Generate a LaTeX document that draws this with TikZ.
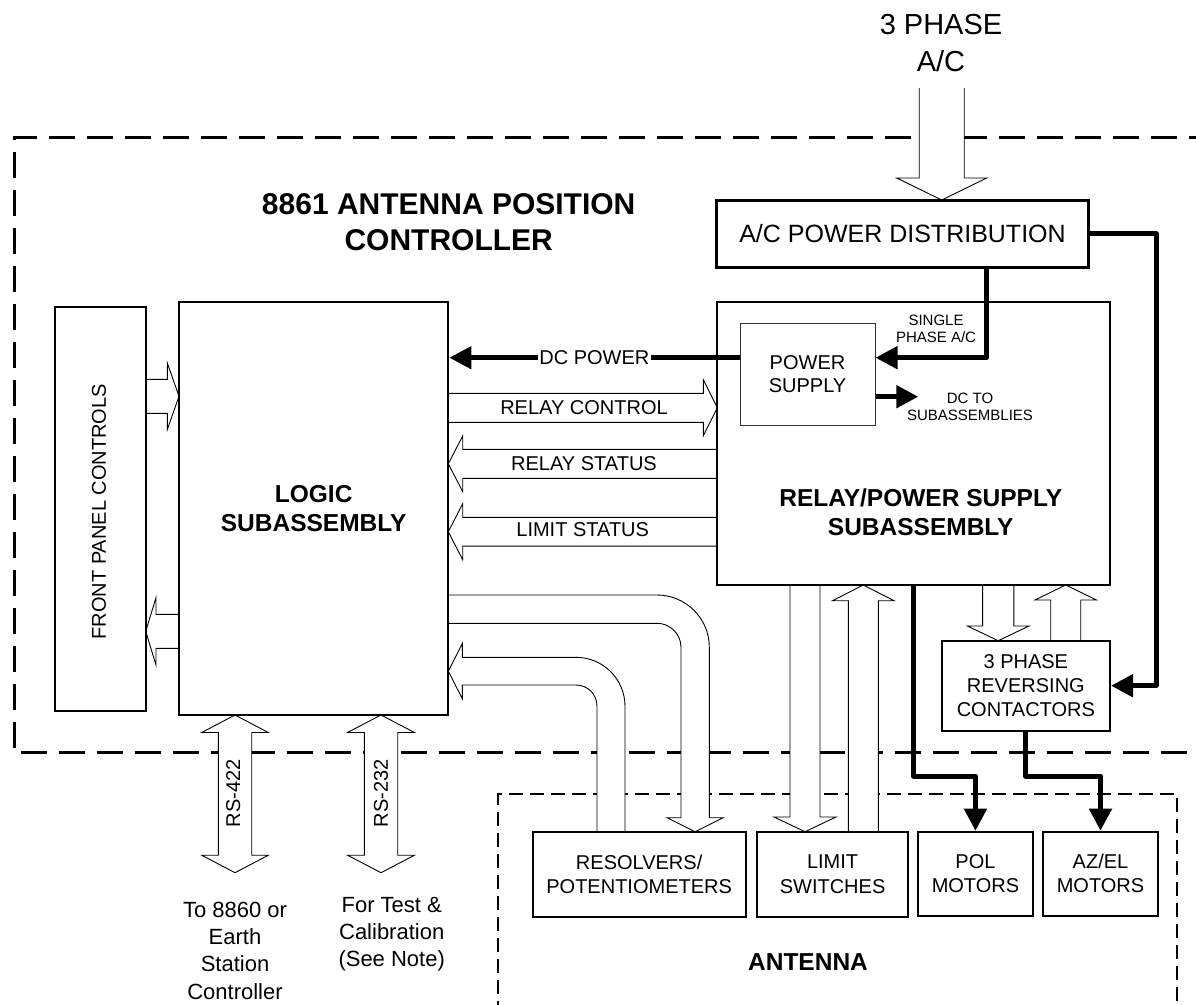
\documentclass[tikz,border=0pt]{standalone}
\usepackage{fontspec}
\setmainfont{Liberation Sans}
\usetikzlibrary{arrows.meta}

% horizontal block arrow: tail x, tip x, y, shaft half, head half, head length
\newcommand{\HArrow}[6]{%
  \pgfmathsetmacro{\myhb}{#2-sign(#2-#1)*#6}%
  \filldraw[barrow] (#1,#3-#4) -- (\myhb,#3-#4) -- (\myhb,#3-#5) -- (#2,#3) -- (\myhb,#3+#5) -- (\myhb,#3+#4) -- (#1,#3+#4);
}
% vertical block arrow: tail y, tip y, x, shaft half, head half, head length
\newcommand{\VArrow}[6]{%
  \pgfmathsetmacro{\myhb}{#2-sign(#2-#1)*#6}%
  \filldraw[barrow] (#3-#4,#1) -- (#3-#4,\myhb) -- (#3-#5,\myhb) -- (#3,#2) -- (#3+#5,\myhb) -- (#3+#4,\myhb) -- (#3+#4,#1);
}
% double headed vertical block arrow: top tip y, bottom tip y, x, shaft half, head half, head length
\newcommand{\DVArrow}[6]{%
  \filldraw[barrow] (#3,#1) -- (#3+#5,#1+#6) -- (#3+#4,#1+#6) -- (#3+#4,#2-#6) -- (#3+#5,#2-#6) -- (#3,#2) -- (#3-#5,#2-#6) -- (#3-#4,#2-#6) -- (#3-#4,#1+#6) -- (#3-#5,#1+#6) -- cycle;
}

\begin{document}
\begin{tikzpicture}[x=1pt,y=-1pt,
  box/.style={draw, fill=white, line width=2pt, inner sep=0pt, align=center},
  barrow/.style={draw=black, fill=white, line width=0.9pt, line join=miter},
  power/.style={line width=5pt, line join=round, -{Triangle[length=22pt,width=22pt]}},
  lbl/.style={inner sep=0pt, align=center},
  f15/.style={font=\fontsize{15}{17.6}\selectfont},
  f20/.style={font=\fontsize{20}{24.2}\selectfont},
  f22/.style={font=\fontsize{22}{27.3}\selectfont},
  fb/.style={font=\fontsize{24.5}{29}\selectfont\bfseries},
]
\useasboundingbox (0,0) rectangle (1196,1004);

% dashed enclosures
\draw[line width=3pt, dash pattern=on 26pt off 12pt] (1215,137) -- (14,137) -- (14,752.7) -- (1215,752.7);
\draw[line width=1.8pt, dash pattern=on 14pt off 7pt] (498.3,1015) -- (498.3,794.3) -- (1177.3,794.3) -- (1177.3,1015);

% block arrows
\VArrow{88}{200}{941.7}{22.5}{45}{22}
\HArrow{145.7}{179}{396.3}{17}{33.3}{11.7}
\HArrow{179}{145.7}{631.3}{17}{33.7}{10.3}
\HArrow{448.3}{717.3}{407.8}{14.5}{28}{14}
\HArrow{717.3}{448.3}{463.8}{14.5}{27.8}{14.4}
\HArrow{717.3}{448.3}{531.7}{14.4}{28}{14.4}
\DVArrow{715}{872.7}{235}{16.7}{33.3}{17.5}
\DVArrow{715}{872.7}{381}{16.7}{33.5}{17.5}
\VArrow{585}{831.7}{805}{15}{31}{14.7}
\VArrow{831.7}{585}{863.3}{15}{30.8}{15.7}
\VArrow{585}{640.7}{998.2}{15.6}{30.8}{14.7}
\VArrow{640.7}{585}{1065.7}{15}{30.8}{15}
% curved block arrows
\filldraw[barrow] (448.3,595) -- (657,595) .. controls (685.9,595) and (709.3,618.4) .. (709.3,647.3)
  -- (709.3,817.7) -- (723.2,817.7) -- (695.15,831.7) -- (667.1,817.7) -- (681,817.7) -- (681,647.3)
  .. controls (681,634.05) and (670.25,623.3) .. (657,623.3) -- (448.3,623.3);
\filldraw[barrow] (625,831.7) -- (625,706.3) .. controls (625,679.2) and (603.1,657.3) .. (576,657.3)
  -- (462.3,657.3) -- (462.3,643.6) -- (448.3,671.15) -- (462.3,698.7) -- (462.3,685) -- (576,685)
  .. controls (587.6,685) and (597,694.4) .. (597,706) -- (597,831.7);

% boxes
\node[box, line width=3pt, minimum width=371.6pt, minimum height=67.7pt, font=\fontsize{25}{30}\selectfont] (acdist) at (902.5,233.85) {A/C POWER DISTRIBUTION};
\node[box, line width=1.8pt, minimum width=392.7pt, minimum height=283.3pt] (relay) at (913.65,443.35) {};
\node[box, line width=1pt, draw=black!80, minimum width=135pt, minimum height=101.7pt, font=\fontsize{20}{22.4}\selectfont] (psupply) at (807.5,374.15) {POWER\\SUPPLY};
\node[box, minimum width=269.3pt, minimum height=413.3pt, fb] (logic) at (313.65,508.35) {LOGIC\\SUBASSEMBLY};
\node[box, line width=1.8pt, minimum width=90.7pt, minimum height=404pt] (front) at (100.35,508.7) {};
\node[box, minimum width=168.3pt, minimum height=90pt, f20] (contactors) at (1025.85,685.7) {3 PHASE\\REVERSING\\CONTACTORS};
\node[box, minimum width=213.3pt, minimum height=85pt, f20] (resolvers) at (639.15,874.2) {RESOLVERS/\\POTENTIOMETERS};
\node[box, minimum width=150.7pt, minimum height=85pt, f20] (limitsw) at (832.55,874.2) {LIMIT\\SWITCHES};
\node[box, minimum width=114.1pt, minimum height=84pt, f20] (pol) at (975.45,873.7) {POL\\MOTORS};
\node[box, minimum width=115pt, minimum height=84pt, f20] (azel) at (1100.5,873.7) {AZ/EL\\MOTORS};

% power connectors
\coordinate (dcend) at (918.3,396.7);
\draw[power] ([xshift=84.2pt]acdist.south) |- (psupply.east |- 0,357.7);
\draw[power] (acdist.east) -| ([xshift=45pt]contactors.east) -- (contactors.east);
\draw[power, line width=4.5pt] (psupply.west |- 0,357.7) -- node[fill=white, inner xsep=1.5pt, inner ysep=2pt, f20] (dcp) {DC POWER} (logic.east |- 0,357.7);
\draw[power] (psupply.east |- dcend) -- (dcend);
\draw[power] (relay.south -| 913.3,0) -- (913.3,776) -| (pol.north);
\draw[power] (contactors.south) -- (contactors.south |- 0,776) -| (azel.north);

% labels
\node[lbl, font=\fontsize{29}{37}\selectfont] (tphase) at (941,43.5) {3 PHASE\\A/C};
\node[lbl, font=\fontsize{30}{36}\selectfont\bfseries] (title) at (448.7,222) {8861 ANTENNA POSITION\\CONTROLLER};
\node[lbl, f15] (single) at (936,328.8) {SINGLE\\PHASE A/C};
\node[lbl, f15] (dcto) at (970,407) {DC TO\\SUBASSEMBLIES};
\node[lbl, fb] (relaylbl) at (920.7,512.5) {RELAY/POWER SUPPLY\\SUBASSEMBLY};
\node[lbl, f20, rotate=90] (frontlbl) at (99,511.7) {FRONT PANEL CONTROLS};
\node[lbl, f20] (rclbl) at (584,407.3) {RELAY CONTROL};
\node[lbl, f20] (rslbl) at (584,463.3) {RELAY STATUS};
\node[lbl, f20] (lslbl) at (582.7,530) {LIMIT STATUS};
\node[lbl, f20, rotate=90] (rs422) at (233.3,793.3) {RS-422};
\node[lbl, f20, rotate=90] (rs232) at (381,793.3) {RS-232};
\node[lbl, f22] (note1) at (235,950.5) {To 8860 or\\Earth\\Station\\Controller};
\node[lbl, f22] (note2) at (391.7,934.2) {For Test \&\\Calibration\\(See Note)};
\node[lbl, fb] (antlbl) at (808,961.7) {ANTENNA};
\end{tikzpicture}
\end{document}
